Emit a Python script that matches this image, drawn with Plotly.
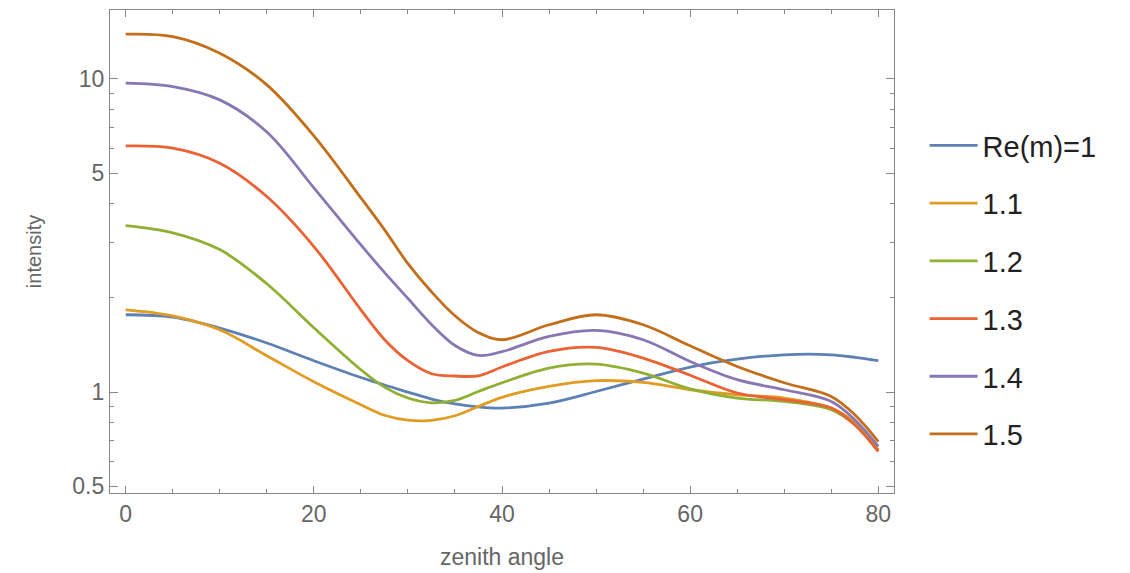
import plotly.graph_objects as go

# zenith angle samples
zenith = [0, 5, 10, 15, 20, 25, 27.5, 30, 32.5, 35, 37.5, 40, 45, 50, 55, 60, 65, 70, 75, 77.5, 80]

re_10 = [1.765, 1.735, 1.601, 1.434, 1.259, 1.113, 1.053, 1.0, 0.950, 0.916, 0.896, 0.889, 0.922, 1.004, 1.100, 1.202, 1.274, 1.315, 1.315, 1.291, 1.259]
re_11 = [1.831, 1.752, 1.580, 1.306, 1.079, 0.911, 0.843, 0.813, 0.812, 0.840, 0.899, 0.962, 1.042, 1.087, 1.073, 1.017, 0.980, 0.957, 0.889, 0.798, 0.654]
re_12 = [3.40, 3.225, 2.85, 2.217, 1.604, 1.178, 1.037, 0.957, 0.924, 0.940, 1.004, 1.071, 1.193, 1.228, 1.150, 1.024, 0.957, 0.933, 0.878, 0.786, 0.646]
re_13 = [6.11, 6.01, 5.38, 4.21, 2.915, 1.831, 1.472, 1.259, 1.144, 1.125, 1.127, 1.202, 1.348, 1.388, 1.284, 1.131, 0.993, 0.945, 0.889, 0.786, 0.646]
re_14 = [9.69, 9.45, 8.57, 6.77, 4.49, 2.95, 2.41, 1.990, 1.644, 1.408, 1.309, 1.345, 1.505, 1.573, 1.469, 1.252, 1.095, 1.017, 0.933, 0.816, 0.671]
re_15 = [13.89, 13.65, 12.08, 9.57, 6.58, 4.17, 3.30, 2.57, 2.09, 1.752, 1.547, 1.469, 1.640, 1.765, 1.640, 1.405, 1.207, 1.071, 0.968, 0.846, 0.695]

series = [re_10, re_11, re_12, re_13, re_14, re_15]
labels = ["Re(m)=1", "1.1", "1.2", "1.3", "1.4", "1.5"]
colors = ["#5E81B5", "#E19C24", "#8FB032", "#EB6235", "#8778B3", "#C56E1A"]

y_tickvals = [0.5, 1, 5, 10]
y_ticktext = ["0.5", "1", "5", "10"]
y_minor = [0.6, 0.7, 0.8, 0.9, 2, 3, 4, 6, 7, 8, 9]
x_tickvals = [0, 20, 40, 60, 80]

fig = go.Figure()
for i, (vals, lab, col) in enumerate(zip(series, labels, colors)):
    fig.add_trace(go.Scatter(
        x=zenith, y=vals, mode="lines", name=lab,
        line=dict(color=col, width=2.8, shape="spline", smoothing=1.0),
        legendgroup=f"g{i}",
    ))

frame = "#888888"
tickfont = dict(family="Liberation Sans, Arial, sans-serif", size=23, color="#666666")

fig.update_layout(
    width=1130, height=573,
    margin=dict(l=102, r=244, t=2, b=88),
    paper_bgcolor="white", plot_bgcolor="white",
    font=dict(family="Liberation Sans, Arial, sans-serif"),
    showlegend=True,
    legend=dict(
        x=1.039, xanchor="left", y=0.772, yanchor="top",
        font=dict(size=29, color="#222222"),
        tracegroupgap=17, itemwidth=48,
        bgcolor="rgba(0,0,0,0)",
    ),
    xaxis=dict(
        range=[-1.67, 81.67], tickvals=x_tickvals,
        ticks="inside", ticklen=7, tickwidth=1, tickcolor=frame,
        showline=True, linecolor=frame, linewidth=1.2, mirror="allticks",
        showgrid=False, zeroline=False, tickfont=tickfont,
        minor=dict(dtick=5, tick0=0, ticks="inside", ticklen=4, tickcolor=frame, showgrid=False),
        title=dict(text="zenith angle", font=dict(size=23, color="#666666"), standoff=23),
    ),
    yaxis=dict(
        type="log", range=[-0.3224, 1.220],
        tickvals=y_tickvals, ticktext=y_ticktext,
        ticks="inside", ticklen=8, tickwidth=1, tickcolor=frame,
        showline=True, linecolor=frame, linewidth=1.2, mirror="allticks",
        showgrid=False, zeroline=False, tickfont=tickfont,
        minor=dict(tickvals=y_minor, ticks="inside", ticklen=4, tickcolor=frame, showgrid=False),
        title=dict(text="intensity", font=dict(size=20, color="#666666"), standoff=25),
    ),
)

fig.write_html("out.html")
